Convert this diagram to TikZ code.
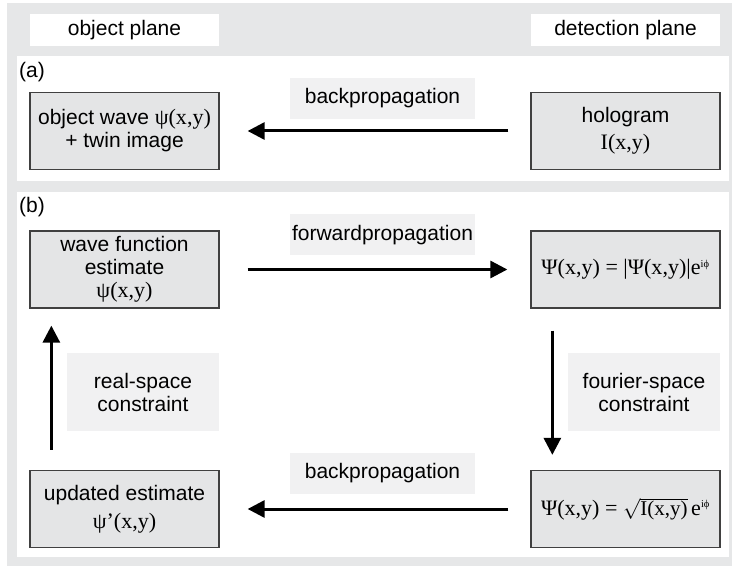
\documentclass[tikz,border=0pt]{standalone}
\usepackage{fontspec}
\setmainfont{Liberation Sans}
\newfontfamily\tms[Scale=1.05]{Liberation Serif}
\newfontfamily\tmsr{Liberation Serif}
\usetikzlibrary{arrows.meta,positioning}

\definecolor{bggray}{HTML}{E6E7E8}
\definecolor{boxgray}{HTML}{E4E5E6}
\definecolor{lblgray}{HTML}{F1F1F2}
\definecolor{edgegray}{HTML}{404040}

\begin{document}
\begin{tikzpicture}[x=1pt,y=-1pt,
    font=\fontsize{21}{23}\selectfont,
    box/.style={draw=edgegray,line width=1.3pt,fill=boxgray,minimum width=189pt,minimum height=77pt,inner sep=0pt,align=center},
    lbl/.style={fill=lblgray,minimum height=41pt,inner sep=0pt,align=center},
    plane/.style={fill=white,minimum width=189pt,minimum height=32pt,inner sep=0pt},
    arr/.style={line width=3pt,-{Triangle[length=17pt,width=17pt]}}]
    % Frame and panels
    \useasboundingbox (0,0) rectangle (732,567);
    \fill[bggray] (7,3) rectangle (732,566);
    \fill[white] (17,56) rectangle (729,181);
    \fill[white] (17,192) rectangle (729,557);

    % Planes
    \node[plane] (objplane) at (124.5,30) {object plane};
    \node[plane] (detplane) at (625.5,30) {detection plane};

    % Panel (a)
    \node[anchor=north west,inner sep=0pt] (tagA) at (19,62) {(a)};
    \node[box] (objwave) at (124.5,131) {object wave {\tms ψ(x,y)}\\+ twin image};
    \node[box] (holo) at (625.5,131) {hologram\\[4pt]{\tms I(x,y)}};
    \node[lbl,minimum width=185pt] (backA) at (382.5,98.5) {backpropagation};
    \draw[arr,shorten <=22pt,shorten >=28pt] (holo) -- (objwave);

    % Panel (b)
    \node[anchor=north west,inner sep=0pt] (tagB) at (19,197) {(b)};
    \node[box] (wave) at (124.5,269.5) {wave function\\estimate\\{\tms ψ(x,y)}};
    \node[box] (psi) at (625.5,269.5) {\tms Ψ(x,y) = |Ψ(x,y)|e\textsuperscript{\fontsize{10}{10}\selectfont iϕ}};
    \node[box] (upd) at (124.5,509) {updated estimate\\[5pt]{\tms ψ’(x,y)}};
    \node[box] (psisq) at (625.5,509) {\tms Ψ(x,y) = $\sqrt{\hbox{\tmsr I(x,y)}}$\,e\textsuperscript{\fontsize{10}{10}\selectfont iϕ}};
    \node[lbl,minimum width=185pt] (fwd) at (382.5,235) {forwardpropagation};
    \node[lbl,minimum width=185pt] (backB) at (382.5,473.5) {backpropagation};
    \node[lbl,minimum width=152pt,minimum height=78pt] (real) at (143,392) {real-space\\constraint};
    \node[lbl,minimum width=152pt,minimum height=78pt] (fourier) at (644,392) {fourier-space\\constraint};

    \draw[arr,shorten <=28pt,shorten >=23pt] (wave) -- (psi);
    \draw[arr,shorten <=22pt,shorten >=15pt] ([xshift=22pt]psi.south west) -- ([xshift=22pt]psi.south west |- psisq.north);
    \draw[arr,shorten <=22pt,shorten >=28pt] (psisq) -- (upd);
    \draw[arr,shorten <=20pt,shorten >=17pt] ([xshift=22pt]upd.north west) -- ([xshift=22pt]upd.north west |- wave.south);
\end{tikzpicture}
\end{document}
